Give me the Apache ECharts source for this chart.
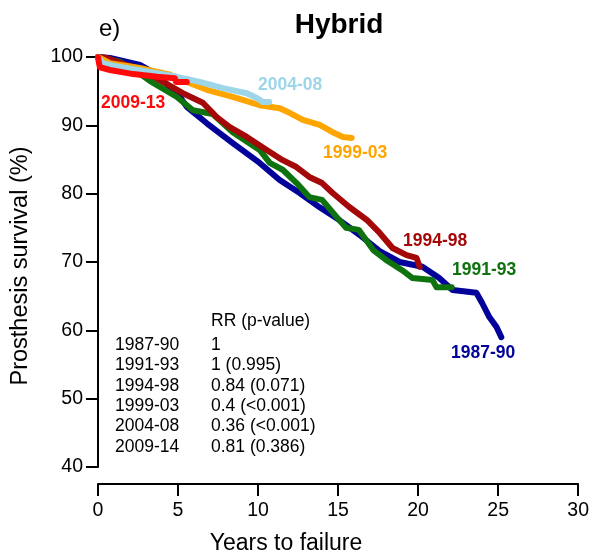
<!DOCTYPE html>
<html>
<head>
<meta charset="utf-8">
<script src="https://cdn.jsdelivr.net/npm/echarts@6/dist/echarts.min.js"></script>
<style>
html,body{margin:0;padding:0;background:#fff;}
#c{width:592px;height:554px;}
</style>
</head>
<body>
<div id="c"></div>
<script>
// ---- data (years to failure, prosthesis survival %) ----
const s1987 = [[0,100],[0.75,99.85],[2.62,98.83],[3.43,97.8],[4.18,96.3],[5.12,94.15],[5.55,92.7],[6.8,90.3],[8.42,87.4],[10.1,84.5],[11.35,82.0],[12.6,80.1],[13.85,78.0],[15.1,76.1],[16.35,73.95],[17.6,71.6],[18.84,70.0],[20.27,69.3],[21.3,67.7],[22.15,65.9],[23.64,65.5],[24.0,64.0],[24.45,61.95],[24.9,60.5],[25.2,59.0]];
const s1991 = [[0,100],[1.37,99.3],[2.3,98.1],[3.24,96.5],[4.93,94.15],[5.93,92.2],[7.17,91.65],[8.42,89.0],[10.1,86.4],[10.73,84.5],[11.54,83.5],[12.41,81.55],[13.2,79.5],[14.0,79.1],[14.9,76.6],[15.5,75.0],[16.3,74.7],[17.2,71.75],[18.0,70.3],[19.0,68.8],[19.65,67.65],[20.9,67.35],[21.15,66.3],[22.1,66.3]];
const s1994 = [[0,100],[0.56,99.85],[1.81,98.8],[2.8,98.1],[3.87,96.6],[5.3,94.7],[6.55,93.3],[7.42,91.2],[8.23,89.75],[9.3,88.3],[10.54,86.4],[11.54,84.9],[12.4,83.9],[13.2,82.45],[14.0,81.55],[14.66,80.1],[15.7,78.05],[16.8,76.15],[17.6,74.25],[18.4,72.05],[19.28,71.0],[19.9,70.6],[20.1,69.3]];
const s1999 = [[0,100],[0.75,99.1],[2.6,98.4],[4.5,97.4],[5.55,96.35],[6.8,95.2],[8.42,94.15],[10.1,92.95],[11.35,92.5],[12.0,91.8],[12.8,90.8],[13.85,90.05],[14.66,89.0],[15.3,88.3],[15.85,88.15]];
const s2004 = [[0,100],[0.3,99.1],[1.06,98.7],[3.24,97.8],[4.93,97.1],[6.36,96.35],[7.8,95.45],[9.3,94.7],[9.92,94.0],[10.3,93.4],[10.7,93.4]];
const s2009 = [[0,100],[0.06,99.1],[0.12,98.5],[0.75,98.1],[2.2,97.5],[3.7,97.1],[4.8,96.9],[4.87,96.35],[5.55,96.35]];

const seriesNames = ['1987-90','1991-93','1994-98','1999-03','2004-08','2009-13'];
const seriesColors = ['#02029a','#0e720e','#a40808','#ffa500','#9cd6e8','#ff0a0a'];
const seriesData = [s1987, s1991, s1994, s1999, s2004, s2009];

const xTicks = [0,5,10,15,20,25,30];
const yTicks = [40,50,60,70,80,90,100];

const tableHeader = 'RR (p-value)';
const tablePeriods = ['1987-90','1991-93','1994-98','1999-03','2004-08','2009-14'];
const tableRR = ['1','1 (0.995)','0.84 (0.071)','0.4 (<0.001)','0.36 (<0.001)','0.81 (0.386)'];

const chartTitle = 'Hybrid';
const panelLabel = 'e)';
const xTitle = 'Years to failure';
const yTitle = 'Prosthesis survival (%)';

// ---- chart ----
const FONT = '"Liberation Sans", Arial, Helvetica, sans-serif';
const chart = echarts.init(document.getElementById('c'), null, {renderer:'canvas'});

// label positions (pixel annotations)
const labelPos = [[451,353],[452,270],[403,241],[323,153],[258,85],[101,103]];

const graphics = [
  {type:'text', left:99, top:17, style:{text:panelLabel, font:'24px '+FONT, fill:'#000'}},
  {type:'text', x:339, y:25, style:{text:chartTitle, font:'bold 28px '+FONT, fill:'#000', textAlign:'center', textVerticalAlign:'middle'}},
  {type:'text', x:286, y:544, style:{text:xTitle, font:'23px '+FONT, fill:'#000', textAlign:'center', textVerticalAlign:'middle'}},
  {type:'text', x:21, y:266, rotation:Math.PI/2, style:{text:yTitle, font:'23.5px '+FONT, fill:'#000', textAlign:'center', textVerticalAlign:'middle'}},
  {type:'text', x:211, y:321, style:{text:tableHeader, font:'17.5px '+FONT, fill:'#000', textVerticalAlign:'middle'}}
];
tablePeriods.forEach((p,i)=>{
  graphics.push({type:'text', x:115, y:345+i*20.4, style:{text:p, font:'17.5px '+FONT, fill:'#000', textVerticalAlign:'middle'}});
  graphics.push({type:'text', x:211, y:345+i*20.4, style:{text:tableRR[i], font:'17.5px '+FONT, fill:'#000', textVerticalAlign:'middle'}});
});
seriesNames.forEach((n,i)=>{
  graphics.push({type:'text', x:labelPos[i][0], y:labelPos[i][1], style:{text:n, font:'bold 17.5px '+FONT, fill:seriesColors[i], textVerticalAlign:'middle'}});
});

chart.setOption({
  animation:false,
  backgroundColor:'#fff',
  grid:{left:98, right:13, top:57, bottom:87},
  xAxis:{
    type:'value', min:xTicks[0], max:xTicks[xTicks.length-1], interval:5, offset:17,
    axisLine:{show:true, lineStyle:{color:'#000', width:2}},
    axisTick:{show:true, length:12, lineStyle:{color:'#000', width:2}},
    axisLabel:{color:'#000', fontSize:19.5, fontFamily:FONT, margin:17},
    splitLine:{show:false}
  },
  yAxis:{
    type:'value', min:yTicks[0], max:yTicks[yTicks.length-1], interval:10,
    axisLine:{show:true, lineStyle:{color:'#000', width:2}},
    axisTick:{show:true, length:12, lineStyle:{color:'#000', width:2}},
    axisLabel:{color:'#000', fontSize:19.5, fontFamily:FONT, margin:15},
    splitLine:{show:false}
  },
  graphic:graphics,
  series: seriesData.map((d,i)=>({
    type:'line', name:seriesNames[i], data:d, showSymbol:false, symbol:'none',
    clip:false, z:2+i,
    lineStyle:{color:seriesColors[i], width:6, cap:'round', join:'round'}
  }))
});
</script>
</body>
</html>
